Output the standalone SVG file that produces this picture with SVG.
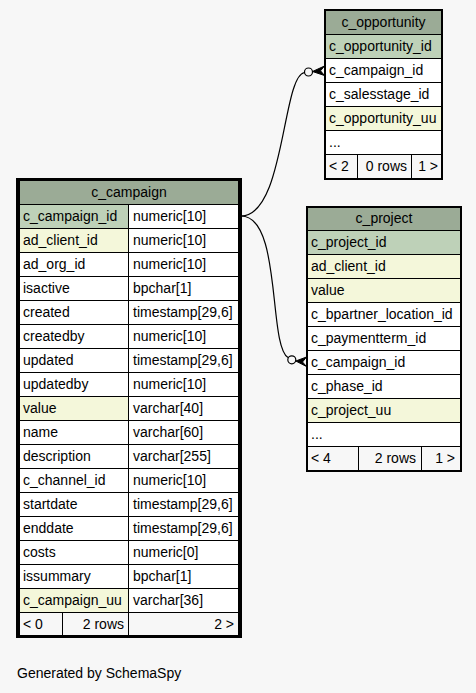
<svg xmlns="http://www.w3.org/2000/svg" width="476" height="693" viewBox="0 0 476 693">
<style>
text{font-family:"Liberation Sans",Arial,sans-serif;font-size:14px;fill:#000}
.c{stroke:#000;stroke-width:1}
.hd{fill:#9bab96}.pk{fill:#bed1b8}.ix{fill:#f4f7da}.pl{fill:#fff}.ft{fill:#f7f7f7}
.ob{fill:none;stroke:#000;stroke-width:1}
.obf{fill:none;stroke:#000;stroke-width:3}
.m{text-anchor:middle}.e{text-anchor:end}
.edge{fill:none;stroke:#000;stroke-width:1.2}
.dot{fill:#f7f7f7;stroke:#000;stroke-width:1.2}
.crow{fill:#000;stroke:#000;stroke-width:1}
</style>
<rect width="476" height="693" fill="#f7f7f7"/>

<g id="connectors">
<path class="edge" d="M241,216 C285,216 282,76 304.5,72.5"/>
<circle class="dot" cx="308.5" cy="72" r="4"/>
<polygon class="crow" points="312.5,71.5 324.5,66 320.5,70.8 324.5,75.5"/>
<path class="edge" d="M241,216 C282,216 268,345 288,357.5"/>
<circle class="dot" cx="291.8" cy="359.8" r="4"/>
<polygon class="crow" points="295.8,361 306.5,357 302.5,362 306.5,366.5"/>
</g>

<g id="c_opportunity">
<rect class="c hd" x="325.5" y="10.5" width="116" height="24"/>
<rect class="c pk" x="325.5" y="34.5" width="116" height="24"/>
<rect class="c pl" x="325.5" y="58.5" width="116" height="24"/>
<rect class="c pl" x="325.5" y="82.5" width="116" height="24"/>
<rect class="c ix" x="325.5" y="106.5" width="116" height="24"/>
<rect class="c pl" x="325.5" y="130.5" width="116" height="24"/>
<rect class="c ft" x="325.5" y="154.5" width="32" height="24"/>
<rect class="c ft" x="357.5" y="154.5" width="54" height="24"/>
<rect class="c ft" x="411.5" y="154.5" width="30" height="24"/>
<rect class="ob" x="324.5" y="9.5" width="118" height="170"/>
<text class="m" x="383.5" y="26.5">c_opportunity</text>
<text x="329" y="50.5">c_opportunity_id</text>
<text x="329" y="74.5">c_campaign_id</text>
<text x="329" y="98.5">c_salesstage_id</text>
<text x="329" y="122.5">c_opportunity_uu</text>
<text x="329" y="146.5">...</text>
<text x="329" y="170.5">&lt; 2</text>
<text class="e" x="407" y="170.5">0 rows</text>
<text class="e" x="438" y="170.5">1 &gt;</text>
</g>

<g id="c_project">
<rect class="c hd" x="307.5" y="207.5" width="153" height="23"/>
<rect class="c pk" x="307.5" y="230.5" width="153" height="24"/>
<rect class="c ix" x="307.5" y="254.5" width="153" height="24"/>
<rect class="c ix" x="307.5" y="278.5" width="153" height="24"/>
<rect class="c pl" x="307.5" y="302.5" width="153" height="24"/>
<rect class="c pl" x="307.5" y="326.5" width="153" height="24"/>
<rect class="c pl" x="307.5" y="350.5" width="153" height="24"/>
<rect class="c pl" x="307.5" y="374.5" width="153" height="24"/>
<rect class="c ix" x="307.5" y="398.5" width="153" height="24"/>
<rect class="c pl" x="307.5" y="422.5" width="153" height="24"/>
<rect class="c ft" x="307.5" y="446.5" width="51" height="24"/>
<rect class="c ft" x="358.5" y="446.5" width="63" height="24"/>
<rect class="c ft" x="421.5" y="446.5" width="39" height="24"/>
<rect class="ob" x="306.5" y="206.5" width="155" height="265"/>
<text class="m" x="384" y="223">c_project</text>
<text x="311" y="246.5">c_project_id</text>
<text x="311" y="270.5">ad_client_id</text>
<text x="311" y="294.5">value</text>
<text x="311" y="318.5">c_bpartner_location_id</text>
<text x="311" y="342.5">c_paymentterm_id</text>
<text x="311" y="366.5">c_campaign_id</text>
<text x="311" y="390.5">c_phase_id</text>
<text x="311" y="414.5">c_project_uu</text>
<text x="311" y="438.5">...</text>
<text x="311" y="462.5">&lt; 4</text>
<text class="e" x="416" y="462.5">2 rows</text>
<text class="e" x="455" y="462.5">1 &gt;</text>
</g>

<g id="c_campaign">
<rect class="c hd" x="19.5" y="180.5" width="219" height="24"/>
<rect class="c pk" x="19.5" y="204.5" width="109" height="24"/><rect class="c pl" x="128.5" y="204.5" width="110" height="24"/>
<rect class="c ix" x="19.5" y="228.5" width="109" height="24"/><rect class="c pl" x="128.5" y="228.5" width="110" height="24"/>
<rect class="c pl" x="19.5" y="252.5" width="109" height="24"/><rect class="c pl" x="128.5" y="252.5" width="110" height="24"/>
<rect class="c pl" x="19.5" y="276.5" width="109" height="24"/><rect class="c pl" x="128.5" y="276.5" width="110" height="24"/>
<rect class="c pl" x="19.5" y="300.5" width="109" height="24"/><rect class="c pl" x="128.5" y="300.5" width="110" height="24"/>
<rect class="c pl" x="19.5" y="324.5" width="109" height="24"/><rect class="c pl" x="128.5" y="324.5" width="110" height="24"/>
<rect class="c pl" x="19.5" y="348.5" width="109" height="24"/><rect class="c pl" x="128.5" y="348.5" width="110" height="24"/>
<rect class="c pl" x="19.5" y="372.5" width="109" height="24"/><rect class="c pl" x="128.5" y="372.5" width="110" height="24"/>
<rect class="c ix" x="19.5" y="396.5" width="109" height="24"/><rect class="c pl" x="128.5" y="396.5" width="110" height="24"/>
<rect class="c pl" x="19.5" y="420.5" width="109" height="24"/><rect class="c pl" x="128.5" y="420.5" width="110" height="24"/>
<rect class="c pl" x="19.5" y="444.5" width="109" height="24"/><rect class="c pl" x="128.5" y="444.5" width="110" height="24"/>
<rect class="c pl" x="19.5" y="468.5" width="109" height="24"/><rect class="c pl" x="128.5" y="468.5" width="110" height="24"/>
<rect class="c pl" x="19.5" y="492.5" width="109" height="24"/><rect class="c pl" x="128.5" y="492.5" width="110" height="24"/>
<rect class="c pl" x="19.5" y="516.5" width="109" height="24"/><rect class="c pl" x="128.5" y="516.5" width="110" height="24"/>
<rect class="c pl" x="19.5" y="540.5" width="109" height="24"/><rect class="c pl" x="128.5" y="540.5" width="110" height="24"/>
<rect class="c pl" x="19.5" y="564.5" width="109" height="24"/><rect class="c pl" x="128.5" y="564.5" width="110" height="24"/>
<rect class="c ix" x="19.5" y="588.5" width="109" height="24"/><rect class="c pl" x="128.5" y="588.5" width="110" height="24"/>
<rect class="c ft" x="19.5" y="612.5" width="43" height="24"/>
<rect class="c ft" x="62.5" y="612.5" width="66" height="24"/>
<rect class="c ft" x="128.5" y="612.5" width="110" height="24"/>
<rect class="obf" x="17.5" y="179.5" width="223" height="457"/>
<text class="m" x="129" y="196.5">c_campaign</text>
<text x="23" y="220.5">c_campaign_id</text><text x="133" y="220.5">numeric[10]</text>
<text x="23" y="244.5">ad_client_id</text><text x="133" y="244.5">numeric[10]</text>
<text x="23" y="268.5">ad_org_id</text><text x="133" y="268.5">numeric[10]</text>
<text x="23" y="292.5">isactive</text><text x="133" y="292.5">bpchar[1]</text>
<text x="23" y="316.5">created</text><text x="133" y="316.5">timestamp[29,6]</text>
<text x="23" y="340.5">createdby</text><text x="133" y="340.5">numeric[10]</text>
<text x="23" y="364.5">updated</text><text x="133" y="364.5">timestamp[29,6]</text>
<text x="23" y="388.5">updatedby</text><text x="133" y="388.5">numeric[10]</text>
<text x="23" y="412.5">value</text><text x="133" y="412.5">varchar[40]</text>
<text x="23" y="436.5">name</text><text x="133" y="436.5">varchar[60]</text>
<text x="23" y="460.5">description</text><text x="133" y="460.5">varchar[255]</text>
<text x="23" y="484.5">c_channel_id</text><text x="133" y="484.5">numeric[10]</text>
<text x="23" y="508.5">startdate</text><text x="133" y="508.5">timestamp[29,6]</text>
<text x="23" y="532.5">enddate</text><text x="133" y="532.5">timestamp[29,6]</text>
<text x="23" y="556.5">costs</text><text x="133" y="556.5">numeric[0]</text>
<text x="23" y="580.5">issummary</text><text x="133" y="580.5">bpchar[1]</text>
<text x="23" y="604.5">c_campaign_uu</text><text x="133" y="604.5">varchar[36]</text>
<text x="23" y="628.5">&lt; 0</text>
<text class="e" x="124" y="628.5">2 rows</text>
<text class="e" x="234" y="628.5">2 &gt;</text>
</g>

<text id="footer-note" x="17" y="678">Generated by SchemaSpy</text>
</svg>
